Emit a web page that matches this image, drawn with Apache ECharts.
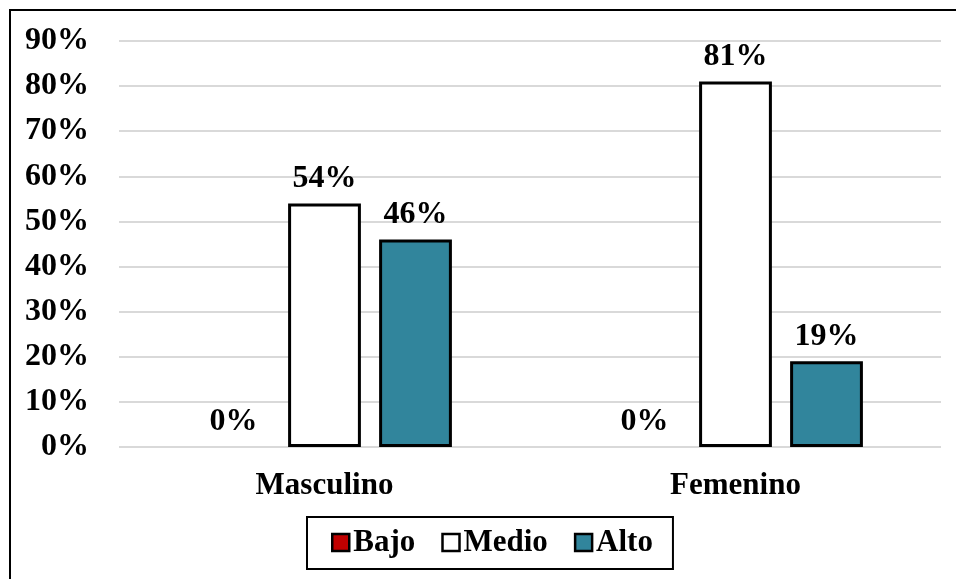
<!DOCTYPE html>
<html>
<head>
<meta charset="utf-8">
<script src="https://cdn.jsdelivr.net/npm/echarts@6/dist/echarts.min.js"></script>
<style>
  html, body { margin: 0; padding: 0; background: #fff; }
  #chart { width: 956px; height: 579px; }
</style>
</head>
<body>
<div id="chart"></div>
<script>
// Nivel por sexo (porcentajes)
const categories = ['Masculino', 'Femenino'];
const seriesNames = ['Bajo', 'Medio', 'Alto'];
const bajo = [0, 0];
const medio = [54, 81];
const alto = [46, 19];
const yTicks = [0, 10, 20, 30, 40, 50, 60, 70, 80, 90];

const FONT = "'Liberation Serif', 'Times New Roman', serif";
const colors = { Bajo: '#C00000', Medio: '#FFFFFF', Alto: '#31859C' };
const values = { Bajo: bajo, Medio: medio, Alto: alto };

const chart = echarts.init(document.getElementById('chart'), null, { renderer: 'canvas' });

const series = seriesNames.map(name => ({
  name: name,
  type: 'bar',
  data: values[name],
  barGap: '25%',
  barCategoryGap: '38%',
  itemStyle: {
    color: colors[name],
    borderColor: '#000',
    borderWidth: name === 'Bajo' ? 0 : 3
  },
  label: {
    show: true,
    position: 'top',
    distance: 9,
    formatter: p => p.value + '%',
    fontFamily: FONT,
    fontWeight: 'bold',
    fontSize: 32,
    color: '#000'
  },
  emphasis: { disabled: true }
}));

chart.setOption({
  animation: false,
  backgroundColor: '#fff',
  graphic: [{
    type: 'rect',
    shape: { x: 10, y: 10, width: 1000, height: 1000 },
    style: { fill: 'none', stroke: '#000', lineWidth: 2 },
    silent: true,
    z: -1
  }],
  grid: { left: 119, right: 15, top: 41, bottom: 132, containLabel: false },
  legend: {
    data: seriesNames,
    left: 307,
    top: 517,
    orient: 'horizontal',
    itemWidth: 17,
    itemHeight: 17,
    itemGap: 26,
    padding: [10, 20, 11, 24],
    borderColor: '#000',
    borderWidth: 2,
    icon: 'rect',
    itemStyle: { borderColor: '#000', borderWidth: 2.5 },
    textStyle: {
      fontFamily: FONT,
      fontWeight: 'bold',
      fontSize: 31,
      color: '#000',
      padding: [0, 0, 0, -1]
    },
    selectedMode: false
  },
  xAxis: {
    type: 'category',
    data: categories,
    axisLine: { show: false },
    axisTick: { show: false },
    axisLabel: {
      margin: 23,
      fontFamily: FONT,
      fontWeight: 'bold',
      fontSize: 31,
      color: '#000'
    }
  },
  yAxis: {
    type: 'value',
    min: yTicks[0],
    max: yTicks[yTicks.length - 1],
    interval: 10,
    axisLine: { show: false },
    axisTick: { show: false },
    splitLine: { lineStyle: { color: '#d9d9d9', width: 2 } },
    axisLabel: {
      margin: 30,
      formatter: v => v + '%',
      fontFamily: FONT,
      fontWeight: 'bold',
      fontSize: 32,
      color: '#000'
    }
  },
  series: series
});
</script>
</body>
</html>
